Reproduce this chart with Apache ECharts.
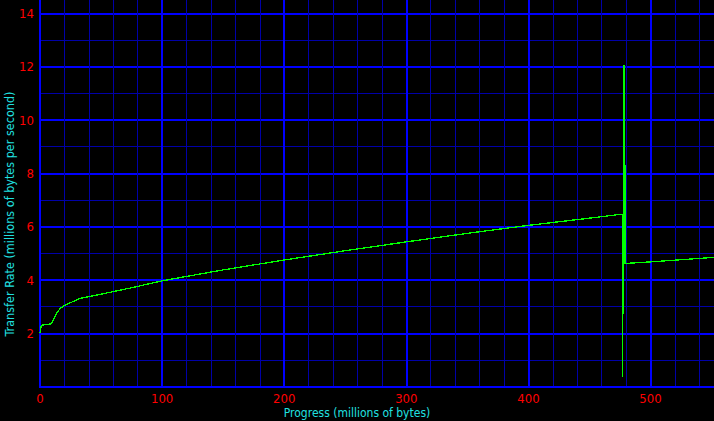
<!DOCTYPE html>
<html><head><meta charset="utf-8">
<script src="https://cdn.jsdelivr.net/npm/echarts@6/dist/echarts.min.js"></script>
<style>html,body{margin:0;padding:0;background:#000;}#c{width:714px;height:421px;}
#c svg path, #c svg line, #c svg polyline, #c svg rect {shape-rendering: crispEdges;}</style>
</head><body><div id="c"></div>
<script>
const xTitle = 'Progress (millions of bytes)';
const yTitle = 'Transfer Rate (millions of bytes per second)';
const progress = [0, 1, 5, 9.5, 11, 13, 15, 17, 19, 24.5, 32.7, 49, 76, 100, 150, 200, 250, 300, 350, 400, 450, 476.8, 477.2, 477.6, 478.2, 478.6, 479, 479.3, 500, 552];
const rate =     [2.0, 2.3, 2.33, 2.36, 2.5, 2.7, 2.85, 2.95, 3.02, 3.14, 3.31, 3.46, 3.72, 3.97, 4.38, 4.75, 5.1, 5.43, 5.75, 6.05, 6.32, 6.47, 0.37, 6.2, 12.06, 4.6, 8.3, 4.62, 4.68, 4.85];

const FONT = '"Liberation Sans Narrow","DejaVu Sans Condensed",Arial,sans-serif';
const MAJ = '#0000ff', MIN = '#0000a8', RED = '#ff0000', CYAN = '#20e0e0';
const XMAX = 552, YMAX = 14.5;
const chart = echarts.init(document.getElementById('c'), null, {renderer:'svg'});
const hidden = {show:false};
chart.setOption({
  backgroundColor: '#000',
  animation: false,
  grid: {left: 40, top: 0, right: 0, bottom: 34.3, containLabel: false},
  xAxis: [
    {type:'value', min:0, max:XMAX, interval:20, position:'bottom', axisTick:hidden,
     axisLine:{show:true, lineStyle:{color:MAJ, width:2}},
     axisLabel:{color:RED, fontFamily:FONT, fontSize:13, lineHeight:11, margin:6, showMaxLabel:false,
       formatter: v => (v % 100 === 0) ? String(v) : ''},
     splitLine:{show:true, showMaxLine:false, lineStyle:{color:MIN, width:1}}},
    {type:'value', min:0, max:XMAX, interval:100, axisLine:hidden, axisTick:hidden, axisLabel:hidden,
     splitLine:{show:true, showMaxLine:false, lineStyle:{color:MAJ, width:2}}}
  ],
  yAxis: [
    {type:'value', min:0, max:YMAX, interval:1, position:'left', axisTick:hidden,
     axisLine:{show:true, lineStyle:{color:MAJ, width:2}},
     axisLabel:{color:RED, fontFamily:FONT, fontSize:13, lineHeight:11, margin:6, showMaxLabel:false,
       formatter: v => (v > 0 && v % 2 === 0) ? String(v) : ''},
     splitLine:{show:true, showMaxLine:false, lineStyle:{color:MIN, width:1}}},
    {type:'value', min:0, max:YMAX, interval:2, axisLine:hidden, axisTick:hidden, axisLabel:hidden,
     splitLine:{show:true, showMaxLine:false, lineStyle:{color:MAJ, width:2}}}
  ],
  graphic: [
    {type:'text', left:'center', top:406.5, style:{text:xTitle, fill:CYAN, font:'12px ' + FONT, lineHeight:13}},
    {type:'text', x:3, y:214, rotation:Math.PI/2, style:{text:yTitle, fill:CYAN, font:'12.5px ' + FONT, align:'center', verticalAlign:'top'}}
  ],
  series: [{
    type:'line', xAxisIndex:0, yAxisIndex:0, showSymbol:false, symbol:'none',
    lineStyle:{color:'#00ff00', width:1.3}, z:10,
    data: progress.map((p,i) => [p, rate[i]])
  }]
});
</script></body></html>
